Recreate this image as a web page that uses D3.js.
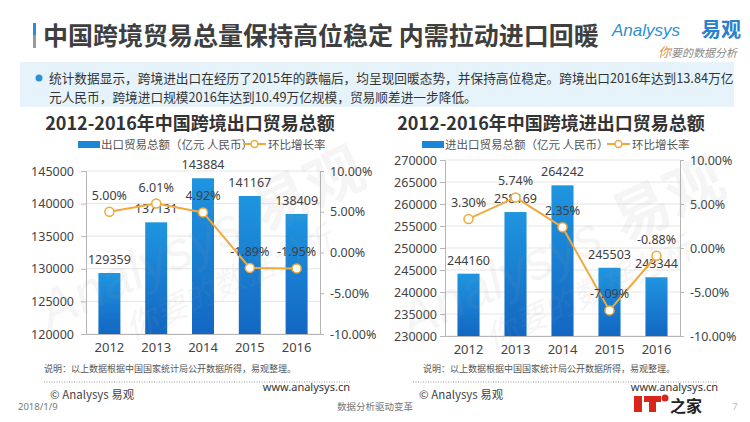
<!DOCTYPE html>
<html>
<head>
<meta charset="utf-8">
<script src="https://cdn.jsdelivr.net/npm/d3@7/dist/d3.min.js"></script>
<style>
  body { margin: 0; background: #fff; }
  svg { display: block; font-family: "Noto Sans", "Noto Sans CJK SC", sans-serif; }
</style>
</head>
<body>
<svg id="chart" width="750" height="422"></svg>
<script>
// data
const years = ["2012", "2013", "2014", "2015", "2016"];
const exportValues = [129359, 137131, 143884, 141167, 138409];
const exportGrowth = [5.00, 6.01, 4.92, -1.89, -1.95];
const totalValues = [244160, 258169, 264242, 245503, 243344];
const totalGrowth = [3.30, 5.74, 2.35, -7.09, -0.88];

const exportTicks = [120000, 125000, 130000, 135000, 140000, 145000];
const totalTicks = [230000, 235000, 240000, 245000, 250000, 255000, 260000, 265000, 270000];
const rateTicks = [-10, -5, 0, 5, 10];

const cjk = '"Noto Sans CJK SC", "Noto Sans", sans-serif';
const barBlue = "#1a86d6";
const lineColor = "#f0a93c";

const svg = d3.select("#chart");

const defs = svg.append("defs");
const grad = defs.append("linearGradient").attr("id", "barGrad")
  .attr("x1", 0).attr("y1", 0).attr("x2", 0).attr("y2", 1);
grad.append("stop").attr("offset", "0%").attr("stop-color", "#1f95e0");
grad.append("stop").attr("offset", "100%").attr("stop-color", "#1367c2");

// ---- header ----
svg.append("rect").attr("x", 33).attr("y", 23).attr("width", 3).attr("height", 12).attr("fill", "#2b8fd6");
svg.append("rect").attr("x", 33).attr("y", 35).attr("width", 3).attr("height", 13).attr("fill", "#999");
svg.append("text").attr("x", 43).attr("y", 45)
  .style("font-family", cjk).style("font-size", "25px").style("font-weight", "bold")
  .attr("fill", "#3f3f3f")
  .text("中国跨境贸易总量保持高位稳定 内需拉动进口回暖");

svg.append("text").attr("x", 612).attr("y", 36)
  .style("font-family", '"Liberation Sans", sans-serif').style("font-size", "17px")
  .style("font-style", "italic").attr("fill", "#2f8fd4")
  .text("Analysys");
svg.append("text").attr("x", 701).attr("y", 37)
  .style("font-family", cjk).style("font-size", "20px").style("font-weight", "bold")
  .attr("fill", "#2a80cc").text("易观");
svg.append("text").attr("x", 658).attr("y", 57)
  .style("font-family", cjk).style("font-size", "11px").style("font-style", "italic")
  .attr("fill", "#888")
  .html('<tspan fill="#e08a3c" font-size="13">你</tspan>要的数据分析');

// info box
svg.append("rect").attr("x", 20).attr("y", 62).attr("width", 714).attr("height", 45).attr("fill", "#e6f3fb");
svg.append("circle").attr("cx", 39).attr("cy", 78).attr("r", 3.5).attr("fill", "#2a90d8");
const info = svg.append("text").style("font-family", cjk).style("font-size", "12.7px").attr("fill", "#333");
info.append("tspan").attr("x", 49).attr("y", 83)
  .text("统计数据显示，跨境进出口在经历了2015年的跌幅后，均呈现回暖态势，并保持高位稳定。跨境出口2016年达到13.84万亿");
info.append("tspan").attr("x", 49).attr("y", 102)
  .text("元人民币，跨境进口规模2016年达到10.49万亿规模，贸易顺差进一步降低。");

// ---- a chart panel ----
function panel(o) {
  const g = svg.append("g");
  const x = d3.scaleBand().domain(years).range([o.left, o.right]).paddingInner(0.53).paddingOuter(0.265);
  const y = d3.scaleLinear().domain(o.domain).range([o.bottom, o.top]);
  const yr = d3.scaleLinear().domain([-10, 10]).range([o.bottom, o.top]);

  // title
  g.append("text").attr("x", o.titleX).attr("y", 130).attr("text-anchor", "middle")
    .style("font-family", cjk).style("font-size", "18px").style("font-weight", "bold")
    .attr("fill", "#333").text(o.title);

  // legend
  g.append("rect").attr("x", o.legX).attr("y", 141).attr("width", 22).attr("height", 7).attr("fill", barBlue);
  g.append("text").attr("x", o.legX + 23).attr("y", 148.5)
    .style("font-family", cjk).style("font-size", "11.5px").attr("fill", "#555").text(o.legend);
  g.append("line").attr("x1", o.leg2X).attr("x2", o.leg2X + 23).attr("y1", 144).attr("y2", 144)
    .attr("stroke", lineColor).attr("stroke-width", 2);
  g.append("circle").attr("cx", o.leg2X + 11.5).attr("cy", 144).attr("r", 3.5)
    .attr("fill", "#fff").attr("stroke", lineColor).attr("stroke-width", 1.5);
  g.append("text").attr("x", o.leg2X + 25).attr("y", 148.5)
    .style("font-family", cjk).style("font-size", "11.5px").attr("fill", "#555").text("环比增长率");

  // gridlines
  g.append("g").selectAll("line").data(o.ticks).join("line")
    .attr("x1", o.left).attr("x2", o.right)
    .attr("y1", d => y(d)).attr("y2", d => y(d))
    .attr("stroke", "#e6e6e6");

  // left axis
  const ax = g.append("g").attr("transform", `translate(${o.left},0)`)
    .call(d3.axisLeft(y).tickValues(o.ticks).tickSize(5).tickPadding(o.padL).tickFormat(d3.format("d")));
  // right axis
  const ar = g.append("g").attr("transform", `translate(${o.right},0)`)
    .call(d3.axisRight(yr).tickValues(rateTicks).tickSize(4).tickPadding(6).tickFormat(d => d.toFixed(2) + "%"));
  // bottom axis
  const ab = g.append("g").attr("transform", `translate(0,${o.bottom})`)
    .call(d3.axisBottom(x).tickSize(0).tickPadding(9));
  [ax, ar, ab].forEach(a => {
    a.selectAll(".domain").attr("stroke", "#b5b5b5");
    a.selectAll(".tick line").attr("stroke", "#b5b5b5");
    a.selectAll("text").style("font-family", '"Noto Sans", sans-serif').style("font-size", "12.5px").attr("fill", "#444");
  });
  ab.selectAll("text").style("font-size", "13px");

  // bars
  g.append("g").selectAll("rect").data(o.values).join("rect")
    .attr("x", (d, i) => x(years[i]))
    .attr("width", x.bandwidth())
    .attr("y", d => y(d))
    .attr("height", d => o.bottom - y(d))
    .attr("fill", "url(#barGrad)");

  // watermark
  const wm = g.append("g").attr("transform", `translate(${o.wmX},${o.wmY}) rotate(-25)`)
    .attr("fill", "#9a9a9a").attr("opacity", 0.09);
  wm.append("text").attr("x", 0).attr("y", 0)
    .style("font-family", '"Liberation Sans", sans-serif').style("font-size", "54px").style("font-style", "italic")
    .text("Analysys");
  wm.append("text").attr("x", 235).attr("y", 2)
    .style("font-family", cjk).style("font-size", "58px").style("font-weight", "bold").text("易观");
  wm.append("text").attr("x", 70).attr("y", 44)
    .style("font-family", cjk).style("font-size", "32px").style("font-style", "italic").text("你要的数据分析");

  // bar labels
  g.append("g").selectAll("text").data(o.values).join("text")
    .attr("x", (d, i) => x(years[i]) + x.bandwidth() / 2)
    .attr("y", d => y(d) - 9)
    .attr("text-anchor", "middle")
    .style("font-size", "12.5px").attr("fill", "#404040")
    .text(d => d);

  // growth line
  const cx = (d, i) => x(years[i]) + x.bandwidth() / 2;
  g.append("path").datum(o.growth)
    .attr("fill", "none").attr("stroke", lineColor).attr("stroke-width", 2)
    .attr("d", d3.line().x(cx).y(d => yr(d)));
  g.append("g").selectAll("circle").data(o.growth).join("circle")
    .attr("cx", cx).attr("cy", d => yr(d)).attr("r", 4.5)
    .attr("fill", "#fff").attr("stroke", lineColor).attr("stroke-width", 1.5);
  g.append("g").selectAll("text").data(o.growth).join("text")
    .attr("x", cx).attr("y", d => yr(d) - 12)
    .attr("text-anchor", "middle")
    .style("font-size", "12.5px").attr("fill", "#404040")
    .text(d => d.toFixed(2) + "%");

  // notes
  g.append("text").attr("x", o.noteX).attr("y", 372)
    .style("font-family", cjk).style("font-size", "9px").attr("fill", "#555")
    .text("说明：以上数据根据中国国家统计局公开数据所得，易观整理。");
  g.append("line").attr("x1", o.lineX1).attr("x2", o.lineX2).attr("y1", 382).attr("y2", 382)
    .attr("stroke", "#999").attr("stroke-dasharray", "1,1.5");
  g.append("text").attr("x", o.lineX1 + 6).attr("y", 399)
    .style("font-family", cjk).style("font-size", "11.5px").attr("fill", "#444")
    .text("© Analysys 易观");
  g.append("text").attr("x", o.lineX2).attr("y", 391).attr("text-anchor", "end")
    .style("font-family", '"Noto Sans", sans-serif').style("font-size", "11px").attr("fill", "#333")
    .text("www.analysys.cn");
}

panel({
  title: "2012-2016年中国跨境出口贸易总额", titleX: 190,
  legend: "出口贸易总额（亿元 人民币）", legX: 78, leg2X: 243,
  left: 86, right: 320, top: 171, bottom: 334,
  domain: [120000, 145000], ticks: exportTicks, padL: 7,
  values: exportValues, growth: exportGrowth,
  wmX: 50, wmY: 330,
  noteX: 44, lineX1: 44, lineX2: 350
});

panel({
  title: "2012-2016年中国跨境进出口贸易总额", titleX: 551,
  legend: "进出口贸易总额（亿元 人民币）", legX: 422, leg2X: 607,
  left: 445, right: 680, top: 160, bottom: 336,
  domain: [230000, 270000], ticks: totalTicks, padL: 3,
  values: totalValues, growth: totalGrowth,
  wmX: 410, wmY: 340,
  noteX: 423, lineX1: 413, lineX2: 718
});

// page footer
svg.append("text").attr("x", 18).attr("y", 410)
  .style("font-size", "9.5px").attr("fill", "#777").text("2018/1/9");
svg.append("text").attr("x", 375).attr("y", 410).attr("text-anchor", "middle")
  .style("font-family", cjk).style("font-size", "9.5px").attr("fill", "#777").text("数据分析驱动变革");
svg.append("text").attr("x", 735).attr("y", 410).attr("text-anchor", "middle")
  .style("font-size", "9.5px").attr("fill", "#bbb").text("7");

// IT之家 mark
svg.append("rect").attr("x", 634).attr("y", 396).attr("width", 8).attr("height", 16).attr("fill", "#d9261c");
svg.append("rect").attr("x", 644).attr("y", 396).attr("width", 17).attr("height", 6).attr("fill", "#d9261c");
svg.append("rect").attr("x", 649).attr("y", 396).attr("width", 7).attr("height", 16).attr("fill", "#d9261c");
svg.append("circle").attr("cx", 665).attr("cy", 398).attr("r", 3.5).attr("fill", "#d9261c");
svg.append("text").attr("x", 670).attr("y", 412)
  .style("font-family", cjk).style("font-size", "16px").style("font-weight", "bold").attr("fill", "#222").text("之家");
</script>
</body>
</html>
